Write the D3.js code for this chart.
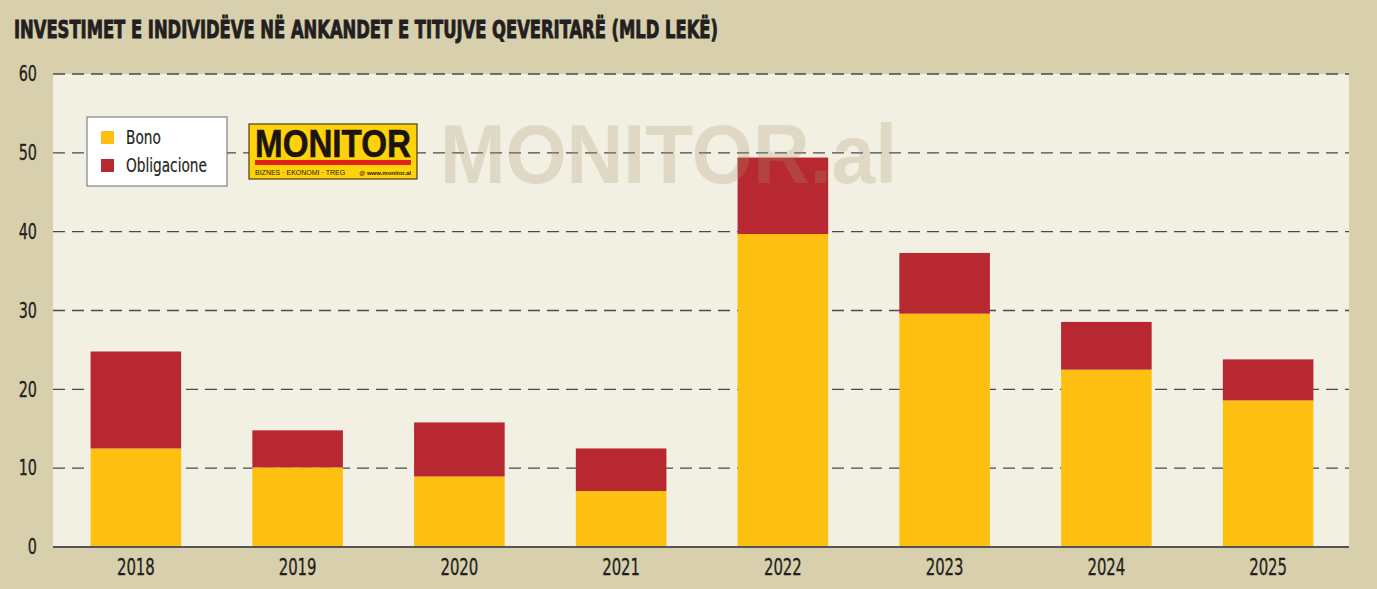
<!DOCTYPE html>
<html>
<head>
<meta charset="utf-8">
<script src="https://cdn.jsdelivr.net/npm/d3@7"></script>
<style>
  html, body { margin: 0; padding: 0; background: #d8d0ad; }
  svg { display: block; }
  .cond { font-family: "DejaVu Sans Condensed", "DejaVu Sans", sans-serif; }
</style>
</head>
<body>
<div id="chart"></div>
<script>
const years = ['2018', '2019', '2020', '2021', '2022', '2023', '2024', '2025'];
const bono = [12.5, 10.1, 8.95, 7.1, 39.7, 29.6, 22.5, 18.6];
const obligacione = [12.3, 4.7, 6.85, 5.4, 9.7, 7.7, 6.05, 5.2];
const yTicks = [0, 10, 20, 30, 40, 50, 60];
const seriesNames = ['Bono', 'Obligacione'];
const colors = ['#fdc010', '#b72831'];

const W = 1377, H = 589;
const m = { top: 74, right: 28, bottom: 42, left: 53 };

// squeeze text horizontally, the source uses a narrow face
function narrow(sel, k) {
  sel.each(function () {
    const len = this.getComputedTextLength();
    d3.select(this)
      .attr('textLength', len * k)
      .attr('lengthAdjust', 'spacingAndGlyphs');
  });
}

const svg = d3.select('#chart').append('svg')
  .attr('width', W)
  .attr('height', H);

svg.append('rect').attr('width', W).attr('height', H).attr('fill', '#d8d0ad');

const x = d3.scaleBand()
  .domain(years)
  .range([m.left + 2, W - m.right])
  .paddingInner(0.44)
  .paddingOuter(0.22);

const y = d3.scaleLinear()
  .domain([0, 60])
  .range([H - m.bottom, m.top]);

// panel
svg.append('rect')
  .attr('x', m.left)
  .attr('y', m.top)
  .attr('width', W - m.right - m.left)
  .attr('height', y(0) - m.top)
  .attr('fill', '#f2efe3');

// title
svg.append('text')
  .attr('class', 'cond')
  .attr('x', 14)
  .attr('y', 38)
  .attr('font-size', 25)
  .attr('font-weight', 'bold')
  .attr('fill', '#231f20')
  .attr('stroke', '#231f20')
  .attr('stroke-width', 0.9)
  .attr('textLength', 704)
  .attr('lengthAdjust', 'spacingAndGlyphs')
  .text('INVESTIMET E INDIVIDËVE NË ANKANDET E TITUJVE QEVERITARË (MLD LEKË)');

// grid
svg.append('g')
  .selectAll('line')
  .data(yTicks.filter(d => d > 0))
  .join('line')
  .attr('x1', m.left)
  .attr('x2', W - m.right)
  .attr('y1', d => y(d))
  .attr('y2', d => y(d))
  .attr('stroke', '#4a4a48')
  .attr('stroke-width', 1.4)
  .attr('stroke-dasharray', '12,7');

// y axis labels
const yAxis = svg.append('g')
  .attr('transform', `translate(${m.left}, 0)`)
  .call(d3.axisLeft(y).tickValues(yTicks).tickSize(0).tickPadding(16));
yAxis.select('.domain').remove();
yAxis.selectAll('text')
  .attr('class', 'cond')
  .attr('font-size', 21)
  .attr('fill', '#231f20')
  .attr('stroke', '#231f20')
  .attr('stroke-width', 0.3)
  .call(narrow, 0.76);

// bars
const rows = years.map((yr, i) => ({ year: yr, Bono: bono[i], Obligacione: obligacione[i] }));
const stacked = d3.stack().keys(seriesNames)(rows);

svg.append('g')
  .selectAll('g')
  .data(stacked)
  .join('g')
  .attr('fill', (d, i) => colors[i])
  .selectAll('rect')
  .data(d => d)
  .join('rect')
  .attr('x', d => x(d.data.year))
  .attr('y', d => y(d[1]))
  .attr('width', x.bandwidth())
  .attr('height', d => y(d[0]) - y(d[1]));

// baseline + x axis
const xAxis = svg.append('g')
  .attr('transform', `translate(0, ${y(0)})`)
  .call(d3.axisBottom(x).tickSize(0).tickPadding(12));
xAxis.select('.domain')
  .attr('d', `M${m.left},0H${W - m.right}`)
  .attr('stroke', '#555')
  .attr('stroke-width', 2);
xAxis.selectAll('text')
  .attr('class', 'cond')
  .attr('font-size', 23)
  .attr('fill', '#231f20')
  .attr('stroke', '#231f20')
  .attr('stroke-width', 0.3)
  .call(narrow, 0.72);

// watermark
svg.append('text')
  .attr('x', 440)
  .attr('y', 183)
  .attr('font-family', 'Liberation Sans, Arial, sans-serif')
  .attr('font-weight', 'bold')
  .attr('font-size', 84)
  .attr('textLength', 457)
  .attr('lengthAdjust', 'spacingAndGlyphs')
  .attr('fill', '#a8966a')
  .attr('opacity', 0.25)
  .text('MONITOR.al');

// legend
const lg = svg.append('g').attr('transform', 'translate(87,117)');
lg.append('rect')
  .attr('width', 140)
  .attr('height', 69)
  .attr('fill', '#ffffff')
  .attr('stroke', '#6b6b6b')
  .attr('stroke-width', 1);
seriesNames.forEach((name, i) => {
  lg.append('rect')
    .attr('x', 14)
    .attr('y', 14 + i * 28)
    .attr('width', 13)
    .attr('height', 13)
    .attr('fill', colors[i]);
  lg.append('text')
    .attr('class', 'cond')
    .attr('x', 39)
    .attr('y', 27 + i * 28)
    .attr('font-size', 19)
    .attr('fill', '#231f20')
    .attr('stroke', '#231f20')
    .attr('stroke-width', 0.2)
    .text(name)
    .call(narrow, 0.8);
});

// logo
const logo = svg.append('g').attr('transform', 'translate(249,124)');
logo.append('rect')
  .attr('width', 168)
  .attr('height', 55)
  .attr('fill', '#ffd20a')
  .attr('stroke', '#4a3c1a')
  .attr('stroke-width', 1.2);
logo.append('text')
  .attr('x', 6)
  .attr('y', 33)
  .attr('font-family', 'Liberation Sans, Arial, sans-serif')
  .attr('font-weight', 'bold')
  .attr('font-size', 38)
  .attr('textLength', 156)
  .attr('lengthAdjust', 'spacingAndGlyphs')
  .attr('fill', '#1c1410')
  .attr('stroke', '#1c1410')
  .attr('stroke-width', 0.6)
  .text('MONITOR');
logo.append('rect')
  .attr('x', 6)
  .attr('y', 36)
  .attr('width', 156)
  .attr('height', 5)
  .attr('fill', '#e2231a');
logo.append('text')
  .attr('x', 6)
  .attr('y', 51)
  .attr('font-family', 'Liberation Sans, Arial, sans-serif')
  .attr('font-size', 7)
  .attr('fill', '#2a2010')
  .text('BIZNES  ·  EKONOMI  ·  TREG');
logo.append('text')
  .attr('x', 162)
  .attr('y', 51)
  .attr('text-anchor', 'end')
  .attr('font-family', 'Liberation Sans, Arial, sans-serif')
  .attr('font-weight', 'bold')
  .attr('font-size', 6)
  .attr('fill', '#2a2010')
  .text('@ www.monitor.al');
</script>
</body>
</html>
